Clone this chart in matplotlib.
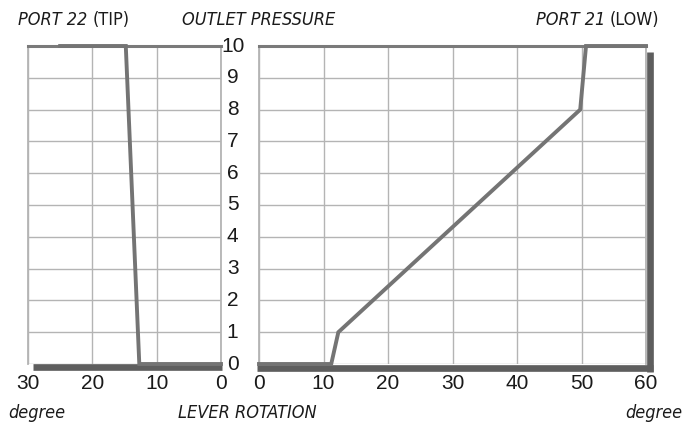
import matplotlib
matplotlib.use("Agg")
import matplotlib.pyplot as plt
from matplotlib import font_manager
import numpy as np

# port 22 (tip) curve, left panel, reversed degree axis
tip_deg = [25, 14.8, 12.7, 0]
tip_pres = [10, 10, 0, 0]

# port 21 (low) curve, right panel
low_deg = [0, 11.2, 12.3, 49.8, 50.7, 60]
low_pres = [0, 0, 1, 8, 10, 10]

left_ticks = [30, 20, 10, 0]
right_ticks = [0, 10, 20, 30, 40, 50, 60]
pres_ticks = list(range(0, 11))

LINE = "#747474"
GRID = "#b4b4b4"
SHADOW = "#5e5e5e"
TOP = "#7a7a7a"

plt.rcParams['font.family'] = ['Liberation Sans', 'DejaVu Sans']


def pick_font(keys, style):
    # look for a narrow / condensed face on the system
    for key in keys:
        for f in font_manager.fontManager.ttflist:
            if key in f.fname and f.style == style:
                return font_manager.FontProperties(fname=f.fname)
    return font_manager.FontProperties(family='Liberation Sans', style=style)


cond_it = pick_font(['LiberationSansNarrow-Italic', 'DejaVuSansCondensed-Oblique'],
                    'italic')
if cond_it.get_file() is None or 'Oblique' in str(cond_it.get_file()):
    c2 = pick_font(['DejaVuSansCondensed-Oblique'], 'oblique')
    if c2.get_file():
        cond_it = c2
cond_rg = pick_font(['LiberationSansNarrow-Regular', 'DejaVuSansCondensed.ttf'],
                    'normal')

W, H = 685, 428
fig = plt.figure(figsize=(W / 100, H / 100), dpi=100)


def box(x0, x1):
    return [x0 / W, 1 - 364 / H, (x1 - x0) / W, 318 / H]


ax1 = fig.add_axes(box(28, 221))
ax2 = fig.add_axes(box(259, 646))

for ax, ticks, xs, ys, lim in [(ax1, left_ticks, tip_deg, tip_pres, (30, 0)),
                                (ax2, right_ticks, low_deg, low_pres, (0, 60))]:
    ax.set_xlim(*lim)
    ax.set_ylim(0, 10)
    ax.set_xticks(ticks)
    ax.set_yticks(pres_ticks)
    ax.grid(True, color=GRID, lw=1.0)
    ax.set_axisbelow(True)
    for s in ax.spines.values():
        s.set_color(GRID)
        s.set_linewidth(1.3)
    ax.spines['top'].set_color(TOP)
    ax.spines['top'].set_linewidth(2.2)
    ax.spines['bottom'].set_visible(False)
    ax.plot(xs, ys, color=LINE, lw=2.8, clip_on=False, zorder=5,
            solid_joinstyle='miter')
    ax.tick_params(axis='x', length=0, pad=7, labelsize=15, colors='#1a1a1a')

ax1.tick_params(axis='y', left=False, labelleft=False)
ax2.tick_params(axis='y', length=0, pad=19, labelsize=15, colors='#1a1a1a')
for lab in ax2.get_yticklabels():
    lab.set_ha('center')
    lab.set_va('center')

# drop shadows under the panels and on the right of port 21
ax1.plot([0.026, 1.005], [-0.01, -0.01], transform=ax1.transAxes,
         color=SHADOW, lw=4.8, clip_on=False, zorder=4, solid_capstyle='butt')
ax2.plot([-0.006, 1.018], [-0.012, -0.012], transform=ax2.transAxes,
         color=SHADOW, lw=4.8, clip_on=False, zorder=4, solid_capstyle='butt')
ax2.plot([1.01, 1.01], [-0.025, 0.981], transform=ax2.transAxes,
         color=SHADOW, lw=4.8, clip_on=False, zorder=4, solid_capstyle='butt')


def txt(x, y, s, fp, ha='left'):
    fig.text(x / W, 1 - y / H, s, fontproperties=fp, fontsize=13, ha=ha,
             va='baseline', color='#1a1a1a')


txt(18, 25, "PORT 22", cond_it)
txt(93, 25, "(TIP)", cond_rg)
txt(182, 25, "OUTLET PRESSURE", cond_it)
txt(536, 25, "PORT 21", cond_it)
txt(610, 25, "(LOW)", cond_rg)
txt(8, 418, "degree", cond_it)
txt(178, 418, "LEVER ROTATION", cond_it)
txt(682, 418, "degree", cond_it, ha='right')

fig.savefig("out.png", dpi=100)
